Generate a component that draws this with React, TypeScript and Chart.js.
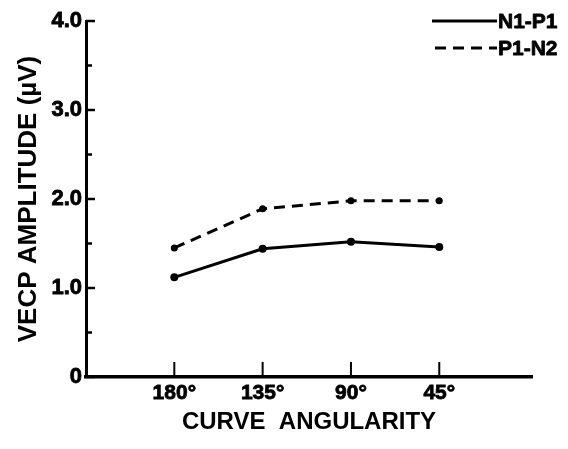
import React, { useEffect, useRef } from "react";
import { Chart, registerables } from "chart.js";

Chart.register(...registerables);

const categories = ["180°", "135°", "90°", "45°"];
const n1p1 = [1.12, 1.44, 1.52, 1.46];
const p1n2 = [1.45, 1.89, 1.98, 1.98];
const seriesLabels = ["N1-P1", "P1-N2"];
const yTickLabels: Record<string, string> = { "0": "0", "1": "1.0", "2": "2.0", "3": "3.0", "4": "4.0" };

const FONT = "'Liberation Sans', Arial, sans-serif";

const tickMarks = {
  id: "tickMarks",
  afterDraw(chart: any) {
    const ctx = chart.ctx;
    const xs = chart.scales.x;
    const ys = chart.scales.y;
    const area = chart.chartArea;
    ctx.save();
    ctx.strokeStyle = "#000";
    ctx.lineWidth = 2.5;
    ys.ticks.forEach((t: any) => {
      const y = ys.getPixelForValue(t.value);
      const len = Number.isInteger(t.value) ? 9 : 6;
      ctx.beginPath();
      ctx.moveTo(area.left, y);
      ctx.lineTo(area.left + len, y);
      ctx.stroke();
    });
    ctx.lineWidth = 2;
    xs.ticks.forEach((t: any) => {
      const x = xs.getPixelForValue(t.value);
      ctx.beginPath();
      ctx.moveTo(x, area.bottom);
      ctx.lineTo(x, area.bottom - 15);
      ctx.stroke();
    });
    ctx.restore();
  },
};

const customLegend = {
  id: "customLegend",
  afterDraw(chart: any) {
    const ctx = chart.ctx;
    const textX = chart.width - 70;
    ctx.save();
    ctx.font = `bold 21px ${FONT}`;
    ctx.textBaseline = "middle";
    ctx.fillStyle = "#000";
    ctx.lineJoin = "round";
    chart.data.datasets.forEach((ds: any, i: number) => {
      const y = 21 + i * 27;
      ctx.strokeStyle = "#000";
      ctx.lineWidth = ds.borderWidth;
      ctx.setLineDash(ds.borderDash || []);
      ctx.beginPath();
      ctx.moveTo(textX - 66 + i * 3, y);
      ctx.lineTo(textX - 1, y);
      ctx.stroke();
      ctx.setLineDash([]);
      ctx.lineWidth = 0.8;
      ctx.fillText(ds.label, textX, y + 1);
      ctx.strokeText(ds.label, textX, y + 1);
    });
    ctx.restore();
  },
};

export default function App() {
  const ref = useRef<HTMLCanvasElement | null>(null);
  useEffect(() => {
    if (!ref.current) return;
    const chart = new Chart(ref.current, {
      type: "line",
      data: {
        datasets: [
          {
            label: seriesLabels[0],
            data: n1p1.map((v, i) => ({ x: i + 1, y: v })),
            borderColor: "#000",
            backgroundColor: "#000",
            borderWidth: 3,
            pointRadius: 4,
            pointBackgroundColor: "#000",
            pointBorderWidth: 0,
          },
          {
            label: seriesLabels[1],
            data: p1n2.map((v, i) => ({ x: i + 1, y: v })),
            borderColor: "#000",
            backgroundColor: "#000",
            borderWidth: 3,
            borderDash: [11, 7],
            pointRadius: 3.5,
            pointBackgroundColor: "#000",
            pointBorderWidth: 0,
          },
        ],
      },
      options: {
        animation: false,
        responsive: true,
        maintainAspectRatio: false,
        layout: { padding: { top: 21, right: 36, left: 0, bottom: 0 } },
        plugins: { legend: { display: false }, tooltip: { enabled: false } },
        scales: {
          x: {
            type: "linear",
            min: 0,
            max: 5.05,
            grid: { display: false, drawTicks: false },
            border: { display: true, color: "#000", width: 3.5 },
            afterBuildTicks: (scale: any) => {
              scale.ticks = categories.map((_, i) => ({ value: i + 1 }));
            },
            afterFit: (scale: any) => {
              scale.height = 72;
            },
            ticks: {
              autoSkip: false,
              maxRotation: 0,
              padding: 4,
              color: "#000",
              textStrokeColor: "#000",
              textStrokeWidth: 0.8,
              font: { family: FONT, size: 21, weight: "bold" },
              callback: (v: any) => categories[Number(v) - 1] ?? "",
            },
            title: {
              display: true,
              text: "CURVE  ANGULARITY",
              color: "#000",
              font: { family: FONT, size: 24, weight: "bold" },
              padding: { top: 0, bottom: 12 },
            },
          },
          y: {
            min: 0,
            max: 4,
            grid: { display: false, drawTicks: false },
            border: { display: true, color: "#000", width: 3 },
            afterFit: (scale: any) => {
              scale.width = 86;
            },
            ticks: {
              stepSize: 0.5,
              autoSkip: false,
              padding: 4,
              color: "#000",
              textStrokeColor: "#000",
              textStrokeWidth: 0.8,
              font: { family: FONT, size: 22, weight: "bold" },
              callback: (v: any) => yTickLabels[String(v)] ?? "",
            },
            title: {
              display: true,
              text: "VECP AMPLITUDE (µV)",
              color: "#000",
              font: { family: FONT, size: 26, weight: "bold" },
              padding: { top: 13, bottom: 0 },
            },
          },
        },
      },
      plugins: [tickMarks, customLegend],
    });
    return () => chart.destroy();
  }, []);
  return (
    <div style={{ position: "fixed", left: 0, top: 0, width: 568, height: 449, background: "#fff" }}>
      <canvas ref={ref} />
    </div>
  );
}
